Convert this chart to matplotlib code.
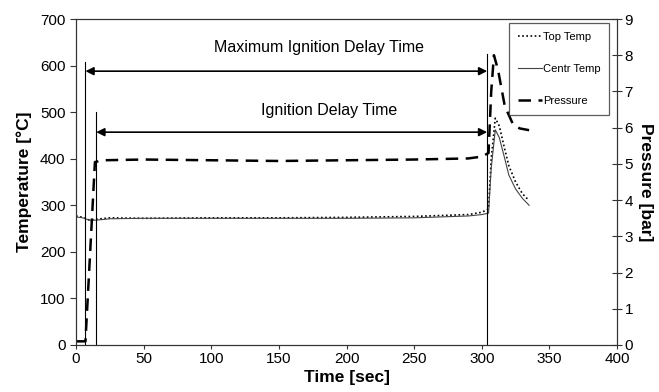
import matplotlib.pyplot as plt
from matplotlib.lines import Line2D

plt.rcParams['font.family'] = ['Liberation Sans', 'DejaVu Sans']

# --- data ---
p_time = [0, 7, 14, 20, 50, 100, 150, 200, 250, 290, 300, 305, 307, 309, 312, 317, 323, 328, 335]
pressure = [0.1, 0.1, 5.05, 5.1, 5.12, 5.1, 5.08, 5.1, 5.12, 5.15, 5.2, 5.3, 7.0, 8.0, 7.6, 6.6, 6.1, 5.98, 5.93]

t_time = [0, 5, 10, 15, 25, 50, 100, 150, 200, 250, 290, 300, 305, 307, 310, 313, 317, 320, 325, 330, 335]
top_temp = [277, 274, 268, 270, 273, 272, 273, 273, 274, 276, 280, 285, 292, 400, 487, 470, 420, 385, 350, 325, 310]
centr_temp = [275, 273, 268, 268, 271, 272, 272, 272, 272, 273, 277, 280, 283, 380, 462, 445, 400, 365, 335, 315, 300]

markers_t = [7, 15, 304]          # vertical marker lines
markers_top = [607, 500, 625]     # their tops in deg C

fig = plt.figure(figsize=(6.59, 3.92), dpi=100)
ax = fig.add_axes([0.1153, 0.12, 0.821, 0.8315])
ax2 = ax.twinx()

ax.plot(t_time, top_temp, color='black', lw=1.2, ls=(0, (1, 1.5)))
ax.plot(t_time, centr_temp, color='#444444', lw=0.8)
ax2.plot(p_time, pressure, color='black', lw=1.8, ls=(0, (5, 3)))

for t, top in zip(markers_t, markers_top):
    ax.plot([t, t], [0, top], color='black', lw=0.8)

arrow = dict(arrowstyle='<|-|>', color='black', lw=1.2, mutation_scale=12, shrinkA=0, shrinkB=0)
ax.annotate('', xy=(7, 588), xytext=(304, 588), arrowprops=arrow)
ax.annotate('', xy=(15, 457), xytext=(304, 457), arrowprops=arrow)
ax.text(180, 638, 'Maximum Ignition Delay Time', ha='center', va='center', fontsize=11.5)
ax.text(187, 503, 'Ignition Delay Time', ha='center', va='center', fontsize=11.5)

ax.set_xlim(0, 400)
ax.set_ylim(0, 700)
ax2.set_ylim(0, 9)
ax.set_xticks(range(0, 401, 50))
ax.set_yticks(range(0, 701, 100))
ax2.set_yticks(range(0, 10))
ax.tick_params(axis='both', labelsize=11, direction='out', length=4, width=0.8, color='#333333')
ax.tick_params(axis='x', length=3, pad=2)
ax2.tick_params(axis='y', labelsize=11, direction='inout', length=7, width=0.8, pad=2, color='#333333')
for a in (ax, ax2):
    for s in a.spines.values():
        s.set_color('#333333')

ax.set_xlabel('Time [sec]', fontsize=12.5, fontweight='bold', labelpad=3)
ax.set_ylabel('Temperature [°C]', fontsize=12.5, fontweight='bold', labelpad=6)
ax2.set_ylabel('Pressure [bar]', fontsize=12.5, fontweight='bold', rotation=270, labelpad=14)

handles = [
    Line2D([], [], color='black', lw=1.2, ls=(0, (1, 1.5))),
    Line2D([], [], color='#444444', lw=0.8),
    Line2D([], [], color='black', lw=1.8, ls=(0, (5, 3))),
]
leg = ax2.legend(handles, ['Top Temp', 'Centr Temp', 'Pressure'], loc='upper right',
                 bbox_to_anchor=(0.986, 0.988), borderaxespad=0, fontsize=8,
                 handlelength=2.2, handletextpad=0.05,
                 labelspacing=2.0, fancybox=False, borderpad=0.8)
leg.get_frame().set_edgecolor('#333333')
leg.get_frame().set_linewidth(0.9)

fig.savefig('out.png', dpi=100)
